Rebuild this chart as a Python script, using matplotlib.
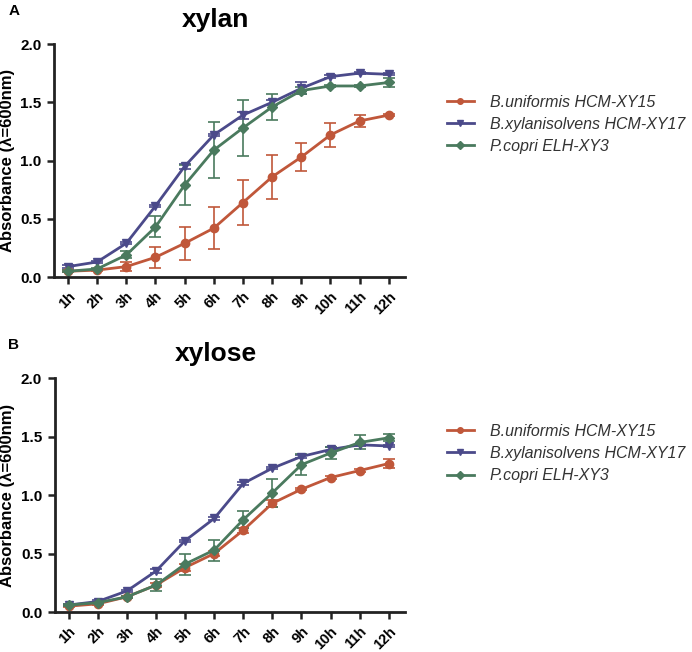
import matplotlib
matplotlib.use("Agg")
import matplotlib.pyplot as plt
from matplotlib.lines import Line2D
import numpy as np

plt.rcParams['font.family'] = ['Liberation Sans', 'DejaVu Sans']

hours = ["1h", "2h", "3h", "4h", "5h", "6h", "7h", "8h", "9h", "10h", "11h", "12h"]
series_names = ["B.uniformis HCM-XY15", "B.xylanisolvens HCM-XY17", "P.copri ELH-XY3"]

# xylan panel
xylan_uni = [0.05, 0.06, 0.09, 0.17, 0.29, 0.42, 0.64, 0.86, 1.03, 1.22, 1.34, 1.39]
xylan_uni_err = [0.01, 0.01, 0.04, 0.09, 0.14, 0.18, 0.19, 0.19, 0.12, 0.10, 0.05, 0.01]
xylan_xyl = [0.09, 0.13, 0.29, 0.61, 0.95, 1.22, 1.39, 1.50, 1.62, 1.72, 1.75, 1.74]
xylan_xyl_err = [0.01, 0.01, 0.01, 0.01, 0.02, 0.01, 0.03, 0.02, 0.05, 0.01, 0.01, 0.01]
xylan_cop = [0.05, 0.07, 0.19, 0.43, 0.79, 1.09, 1.28, 1.46, 1.60, 1.64, 1.64, 1.67]
xylan_cop_err = [0.01, 0.01, 0.03, 0.09, 0.17, 0.24, 0.24, 0.11, 0.03, 0.01, 0.01, 0.04]

# xylose panel
xylose_uni = [0.05, 0.07, 0.13, 0.23, 0.38, 0.50, 0.70, 0.93, 1.05, 1.15, 1.21, 1.27]
xylose_uni_err = [0.01, 0.01, 0.01, 0.02, 0.03, 0.02, 0.02, 0.03, 0.01, 0.01, 0.01, 0.04]
xylose_xyl = [0.06, 0.09, 0.18, 0.35, 0.61, 0.80, 1.10, 1.23, 1.33, 1.39, 1.43, 1.42]
xylose_xyl_err = [0.01, 0.01, 0.01, 0.02, 0.01, 0.01, 0.01, 0.01, 0.01, 0.02, 0.01, 0.01]
xylose_cop = [0.06, 0.08, 0.13, 0.23, 0.41, 0.53, 0.79, 1.02, 1.26, 1.36, 1.45, 1.49]
xylose_cop_err = [0.01, 0.01, 0.01, 0.05, 0.09, 0.09, 0.07, 0.12, 0.09, 0.05, 0.06, 0.03]

colors = ["#C0573A", "#4B4A8A", "#4A7A5E"]
markers = ["o", "v", "D"]
msizes = [6, 5.5, 5]

fig = plt.figure(figsize=(6.92, 6.52), dpi=100)

panels = [
    ("xylan", "A", [0.078, 0.575, 0.507, 0.3575],
     [(xylan_uni, xylan_uni_err), (xylan_xyl, xylan_xyl_err), (xylan_cop, xylan_cop_err)],
     0.877),
    ("xylose", "B", [0.079, 0.0613, 0.506, 0.3587],
     [(xylose_uni, xylose_uni_err), (xylose_xyl, xylose_xyl_err), (xylose_cop, xylose_cop_err)],
     0.372),
]

x = np.arange(1, len(hours) + 1)
for title, letter, rect, data, legy in panels:
    ax = fig.add_axes(rect)
    handles = []
    for (vals, errs), c, m, ms, name in zip(data, colors, markers, msizes, series_names):
        ax.errorbar(x, vals, yerr=errs, color=c, marker=m, markersize=ms,
                    linewidth=2, elinewidth=1.2, capsize=4, capthick=1.2)
        handles.append(Line2D([], [], color=c, marker=m, markersize=4, linewidth=2))
    ax.set_xlim(0.52, 12.55)
    ax.set_ylim(0, 2.0)
    ax.set_yticks([0, 0.5, 1.0, 1.5, 2.0])
    ax.set_yticklabels(["0.0", "0.5", "1.0", "1.5", "2.0"], fontsize=11, fontweight="bold")
    ax.set_xticks(x)
    ax.set_xticklabels(hours, rotation=45, fontsize=10.5, fontweight="bold",
                       ha="right", rotation_mode="anchor")
    for s in ["top", "right"]:
        ax.spines[s].set_visible(False)
    for s in ["left", "bottom"]:
        ax.spines[s].set_linewidth(2)
        ax.spines[s].set_color("#222222")
    ax.tick_params(direction="out", length=5, width=1.8, color="#222222", pad=4)
    ax.set_ylabel("Absorbance (λ=600nm)", fontsize=12, fontweight="bold", labelpad=4)
    ax.set_title(title, fontsize=19, fontweight="bold", pad=12, x=0.46)
    fig.text(0.012, rect[1] + rect[3] + 0.045, letter, fontsize=11, fontweight="bold")
    fig.legend(handles=handles, labels=series_names, loc="upper left",
               bbox_to_anchor=(0.625, legy), frameon=False,
               prop={"style": "italic", "size": 11.5}, handlelength=1.7,
               handletextpad=1.0, labelspacing=0.45, labelcolor="#333333")

fig.savefig("out.png", dpi=100)
